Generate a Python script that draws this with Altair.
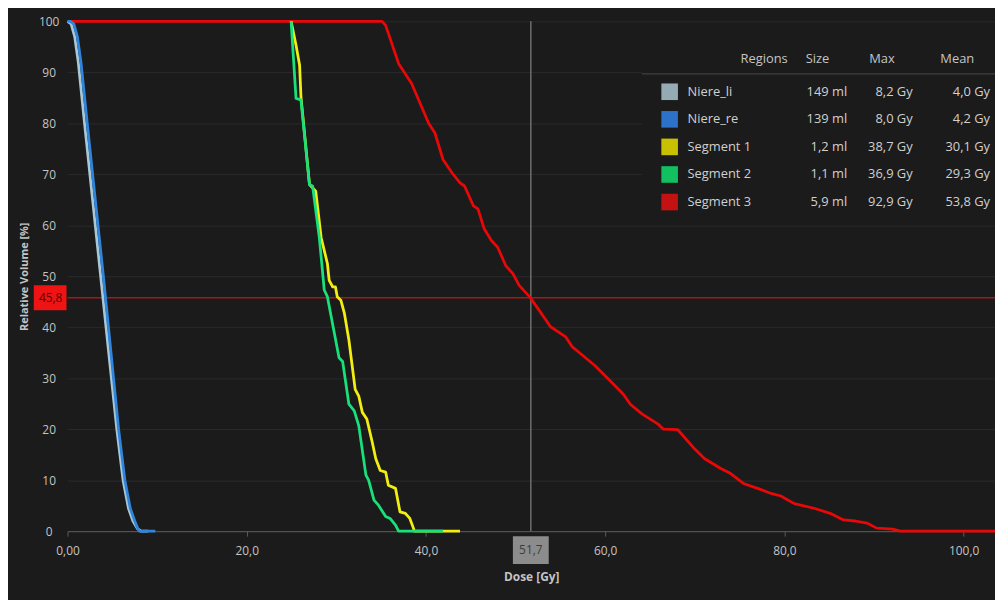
import altair as alt
import pandas as pd

# ---------------- data ----------------
series_names = ["Niere_li", "Niere_re", "Segment 1", "Segment 2", "Segment 3"]
line_colors = ["#a9c8d6", "#2f84dc", "#f2ee12", "#18e07a", "#e80808"]
swatch_colors = ["#94aab4", "#2b72c8", "#c8c000", "#12c060", "#c41212"]
sizes = ["149 ml", "139 ml", "1,2 ml", "1,1 ml", "5,9 ml"]
maxs = ["8,2 Gy", "8,0 Gy", "38,7 Gy", "36,9 Gy", "92,9 Gy"]
means = ["4,0 Gy", "4,2 Gy", "30,1 Gy", "29,3 Gy", "53,8 Gy"]

niere_li_dose = [0, 0.4, 0.8, 1.2, 1.9, 2.8, 3.7, 4.6, 5.5, 6.2, 6.8, 7.3, 7.8, 8.2, 9.0]
niere_li_vol = [100, 99.5, 97, 92, 80, 65, 50, 35, 20, 10, 4.5, 2.0, 0.5, 0, 0]
niere_re_dose = [0, 0.3, 0.7, 1.1, 1.5, 2.2, 3.1, 4.0, 4.85, 5.7, 6.4, 7.0, 7.5, 7.8, 8.0, 9.8]
niere_re_vol = [100, 100, 99.5, 97, 92, 80, 65, 50, 35, 20, 10, 4.5, 2.0, 0.7, 0, 0]

seg1_dose = [24.95, 25.5, 25.9, 26.05, 27.0, 27.7, 28.3, 29.0, 29.2, 29.6, 29.9, 30.1, 30.5,
             30.9, 31.4, 32.1, 32.5, 32.9, 33.4, 34.0, 34.4, 34.9, 35.5, 35.8, 36.6, 37.1,
             37.7, 38.2, 38.6, 38.7, 43.8]
seg1_vol = [100, 95.3, 91.4, 85.2, 68.0, 66.7, 57.6, 52.5, 49.2, 47.9, 47.9, 46.0, 45.3,
            42.7, 37.5, 27.8, 26.5, 23.3, 22.0, 17.5, 14.2, 11.9, 11.6, 9.0, 8.4, 3.8,
            3.5, 2.5, 0.6, 0, 0]

seg2_dose = [24.95, 25.5, 26.05, 27.0, 27.35, 28.1, 28.65, 29.0, 30.3, 30.7, 31.4, 32.0,
             32.5, 33.3, 33.6, 34.2, 34.7, 35.5, 36.0, 36.6, 36.95, 41.9]
seg2_vol = [100, 84.9, 84.6, 68.0, 67.7, 57.6, 47.3, 46.0, 34.0, 33.3, 24.9, 23.6,
            20.7, 11.0, 10.0, 6.1, 5.1, 2.9, 2.5, 1.2, 0, 0]

seg3_dose = [0, 35.1, 35.5, 36.95, 38.4, 40.3, 41.0, 41.9, 42.9, 43.8, 44.3, 45.3, 45.8,
             46.5, 47.3, 48.0, 48.9, 49.7, 50.4, 51.6, 52.6, 53.9, 55.6, 56.3, 57.4, 58.9,
             60.6, 62.05, 62.8, 64.1, 65.9, 66.5, 68.1, 70.0, 71.1, 72.9, 74.0, 75.5, 77.0,
             78.5, 79.6, 81.1, 83.3, 85.1, 86.6, 87.9, 89.2, 90.3, 92.1, 92.9, 103.5]
seg3_vol = [100, 100, 99.2, 91.7, 87.8, 80.0, 78.1, 72.9, 70.3, 68.3, 67.7, 63.8, 63.2,
            59.3, 57.0, 55.7, 52.1, 50.5, 48.2, 45.9, 43.4, 40.1, 38.1, 36.2, 34.6, 32.4,
            29.4, 26.8, 24.9, 23.0, 21.0, 20.0, 19.9, 16.1, 14.2, 12.3, 11.3, 9.3, 8.4,
            7.4, 6.9, 5.4, 4.5, 3.5, 2.2, 2.0, 1.6, 0.6, 0.4, 0, 0]

x_ticks = [0, 20, 40, 60, 80, 100]
y_ticks = [0, 10, 20, 30, 40, 50, 60, 70, 80, 90, 100]
x_max = 103.5
cursor_dose = 51.7
cursor_vol = 45.8

# ---------------- styling ----------------
BG = "#1b1b1b"
FONT = "Open Sans"
TXT = "#c4c4c4"
W, H = 935, 514

curves = {
    "Niere_li": (niere_li_dose, niere_li_vol),
    "Niere_re": (niere_re_dose, niere_re_vol),
    "Segment 1": (seg1_dose, seg1_vol),
    "Segment 2": (seg2_dose, seg2_vol),
    "Segment 3": (seg3_dose, seg3_vol),
}
rows = []
for name, (d, v) in curves.items():
    for i, (dd, vv) in enumerate(zip(d, v)):
        rows.append({"series": name, "dose": dd, "vol": vv, "i": i})
df = pd.DataFrame(rows)

xscale = alt.Scale(domain=[0, x_max], nice=False, zero=False)
yscale = alt.Scale(domain=[0, 100], nice=False)
cscale = alt.Scale(domain=series_names, range=line_colors)

x_axis = alt.Axis(
    values=x_ticks, title="Dose [Gy]", grid=False, labelFlush=False,
    labelExpr="datum.value == 0 ? '0,00' : replace(format(datum.value, '.1f'), '.', ',')",
    domainColor="#5c5c5c", tickColor="#5c5c5c", tickSize=5, labelPadding=9,
    labelColor=TXT, labelFontSize=12, labelFont=FONT,
    titleColor=TXT, titleFontSize=12, titleFont=FONT, titleFontWeight="bold", titlePadding=16,
)
y_axis = alt.Axis(
    values=y_ticks, title="Relative Volume [%]", grid=True, gridColor="#2b2b2b",
    domain=False, ticks=False, tickSize=0, labelAlign="center", labelPadding=19,
    labelFlush=False,
    labelColor=TXT, labelFontSize=12, labelFont=FONT,
    titleColor=TXT, titleFontSize=11, titleFont=FONT, titleFontWeight="bold", titlePadding=9,
)

base = alt.Chart(df)

# axes carrier (invisible)
axes = base.mark_point(opacity=0).encode(
    x=alt.X("dose:Q", scale=xscale, axis=x_axis),
    y=alt.Y("vol:Q", scale=yscale, axis=y_axis),
)

# legend panel background
panel_df = pd.DataFrame({"a": [0]})
panel = alt.Chart(panel_df).mark_rect(color=BG).encode(
    x=alt.value(579), x2=alt.value(W), y=alt.value(30), y2=alt.value(196)
)
sep = alt.Chart(panel_df).mark_rule(color="#4a4a4a", strokeWidth=1).encode(
    x=alt.value(579), x2=alt.value(W), y=alt.value(53)
)

# cursor lines
cur_df = pd.DataFrame({"dose": [cursor_dose], "vol": [cursor_vol]})
vline = alt.Chart(cur_df).mark_rule(color="#6e6e6e", strokeWidth=1.5).encode(
    x=alt.X("dose:Q", scale=xscale), y=alt.value(0), y2=alt.value(H)
)
hline = alt.Chart(cur_df).mark_rule(color="#a81616", strokeWidth=1.5).encode(
    y=alt.Y("vol:Q", scale=yscale), x=alt.value(0), x2=alt.value(W)
)

# curves, drawn in a fixed order
draw_order = ["Segment 3", "Segment 1", "Segment 2", "Niere_li", "Niere_re"]
curve_layers = []
for name in draw_order:
    curve_layers.append(
        base.transform_filter(alt.datum.series == name)
        .mark_line(strokeWidth=2.8, strokeJoin="round")
        .encode(
            x=alt.X("dose:Q", scale=xscale),
            y=alt.Y("vol:Q", scale=yscale),
            color=alt.Color("series:N", scale=cscale, legend=None),
            order="i:Q",
        )
    )

# cursor readouts
ybox = alt.Chart(cur_df).transform_calculate(
    lo="datum.vol - 2.45", hi="datum.vol + 2.45",
    label="replace(format(datum.vol, '.1f'), '.', ',')",
)
ylab_box = ybox.mark_rect(color="#ee1414").encode(
    x=alt.value(-34), x2=alt.value(-1),
    y=alt.Y("lo:Q", scale=yscale), y2="hi:Q",
)
ylab_txt = ybox.mark_text(color="#5a0000", font=FONT, fontSize=12, align="center", baseline="middle").encode(
    x=alt.value(-17), y=alt.Y("vol:Q", scale=yscale), text="label:N"
)
xbox = alt.Chart(cur_df).transform_calculate(
    lo="datum.dose - 2.0", hi="datum.dose + 2.0",
    label="replace(format(datum.dose, '.1f'), '.', ',')",
)
xlab_box = xbox.mark_rect(color="#8c8c8c").encode(
    x=alt.X("lo:Q", scale=xscale), x2="hi:Q", y=alt.value(519), y2=alt.value(547),
)
xlab_txt = xbox.mark_text(color="#3c3c3c", font=FONT, fontSize=12, align="center", baseline="middle").encode(
    x=alt.X("dose:Q", scale=xscale), y=alt.value(533), text="label:N"
)

# legend table
leg_df = pd.DataFrame({
    "row": list(range(len(series_names))),
    "name": series_names, "size": sizes, "max": maxs, "mean": means,
    "swatch": swatch_colors,
})
leg = alt.Chart(leg_df).transform_calculate(py="71 + datum.row * 27.8")
sw = leg.mark_square(size=280, opacity=1, filled=True).encode(
    x=alt.value(607), y=alt.Y("py:Q", scale=None),
    color=alt.Color("swatch:N", scale=None, legend=None),
)
def col(field, xpos, align):
    return leg.mark_text(color="#d0d0d0", font=FONT, fontSize=13, align=align, baseline="middle").encode(
        x=alt.value(xpos), y=alt.Y("py:Q", scale=None), text=f"{field}:N"
    )
names_t = col("name", 625, "left")
size_t = col("size", 786, "right")
max_t = col("max", 852, "right")
mean_t = col("mean", 930, "right")

hdr_df = pd.DataFrame({"h": ["Regions", "Size", "Max", "Mean"], "hx": [726, 756, 821, 897],
                       "al": ["right", "center", "center", "center"]})
hdr_layers = []
for h, hx, al in zip(hdr_df.h, hdr_df.hx, hdr_df.al):
    hdr_layers.append(
        alt.Chart(hdr_df).transform_filter(alt.datum.h == h)
        .mark_text(color="#c4c4c4", font=FONT, fontSize=13, align=al, baseline="middle")
        .encode(x=alt.value(int(hx)), y=alt.value(38), text="h:N")
    )

chart = alt.layer(
    axes, panel, sep, vline, hline, *curve_layers,
    ylab_box, ylab_txt, xlab_box, xlab_txt,
    sw, names_t, size_t, max_t, mean_t, *hdr_layers,
).resolve_scale(color="independent").properties(
    width=W, height=H,
    background=BG,
    autosize=alt.AutoSizeParams(type="none"),
    padding={"left": 60, "top": 11, "right": 0, "bottom": 75},
).configure_view(stroke=None)

chart.save("out.html", embed_options={"renderer": "svg", "actions": False})
